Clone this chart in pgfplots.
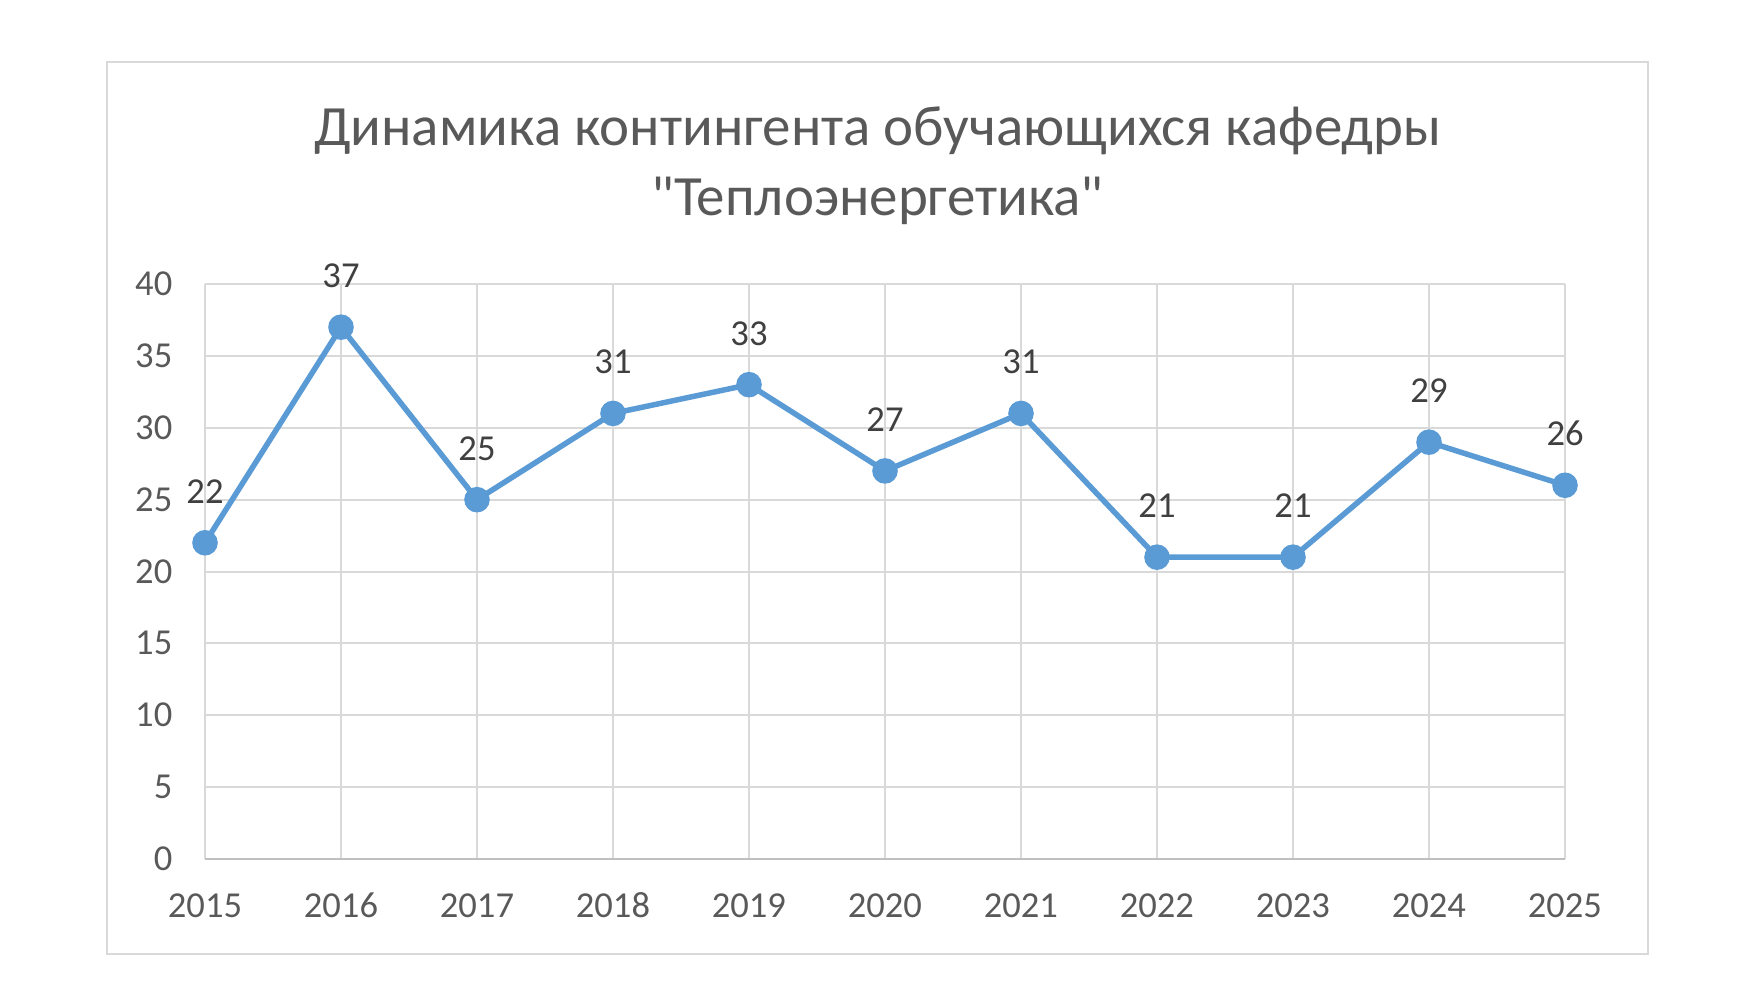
\documentclass[border=0pt]{standalone}
\usepackage{pgfplots}
\pgfplotsset{compat=1.18}
\usepackage{fontspec}
\setmainfont{Carlito}
\newfontfamily\titlefont{Carlito}
\definecolor{lineblue}{HTML}{5B9BD5}
\definecolor{txtgray}{HTML}{595959}
\definecolor{lblgray}{HTML}{404040}
\definecolor{gridgray}{HTML}{D9D9D9}
\definecolor{axgray}{HTML}{BFBFBF}
\begin{document}
\begin{tikzpicture}
\path[use as bounding box] (0,0) rectangle (175.3mm,-98.6mm);
\draw[gridgray, line width=0.25mm] (10.7mm,-6.2mm) rectangle (164.8mm,-95.4mm);
\node[txtgray, font=\titlefont\fontsize{16.2}{19}\selectfont] at (87.75mm,-13.1mm) {Динамика контингента обучающихся кафедры};
\node[txtgray, font=\titlefont\fontsize{16.2}{19}\selectfont] at (87.75mm,-20.1mm) {"Теплоэнергетика"};
\begin{axis}[
  at={(20.5mm,-85.9mm)}, anchor=origin,
  scale only axis, width=136mm, height=57.5mm,
  xmin=2015, xmax=2025, ymin=0, ymax=40,
  xtick={2015,...,2025}, ytick={0,5,...,40},
  grid=major, major grid style={gridgray, line width=0.2mm},
  major tick length=0pt,
  axis x line*=bottom, axis y line*=left,
  x axis line style={axgray, line width=0.25mm, -},
  y axis line style={draw=none, -},
  /pgf/number format/assume math mode=true,
  /pgf/number format/1000 sep={},
  ticklabel style={font=\fontsize{10.4}{12}\selectfont, text=txtgray, inner sep=0pt},
  xticklabel style={anchor=base, yshift=-5.85mm},
  yticklabel style={anchor=base east, xshift=-3.2mm, yshift=-1.15mm},
  clip=false,
]
\addplot[lineblue, line width=0.55mm, mark=*, mark size=1mm, mark options={fill=lineblue, draw=lineblue},
  nodes near coords,
  every node near coord/.append style={anchor=base, yshift=3.95mm, font=\fontsize{10.4}{12}\selectfont, text=lblgray, inner sep=0pt},
  /pgf/number format/assume math mode=true]
coordinates {(2015,22) (2016,37) (2017,25) (2018,31) (2019,33) (2020,27) (2021,31) (2022,21) (2023,21) (2024,29) (2025,26)};
\end{axis}
\end{tikzpicture}
\end{document}
